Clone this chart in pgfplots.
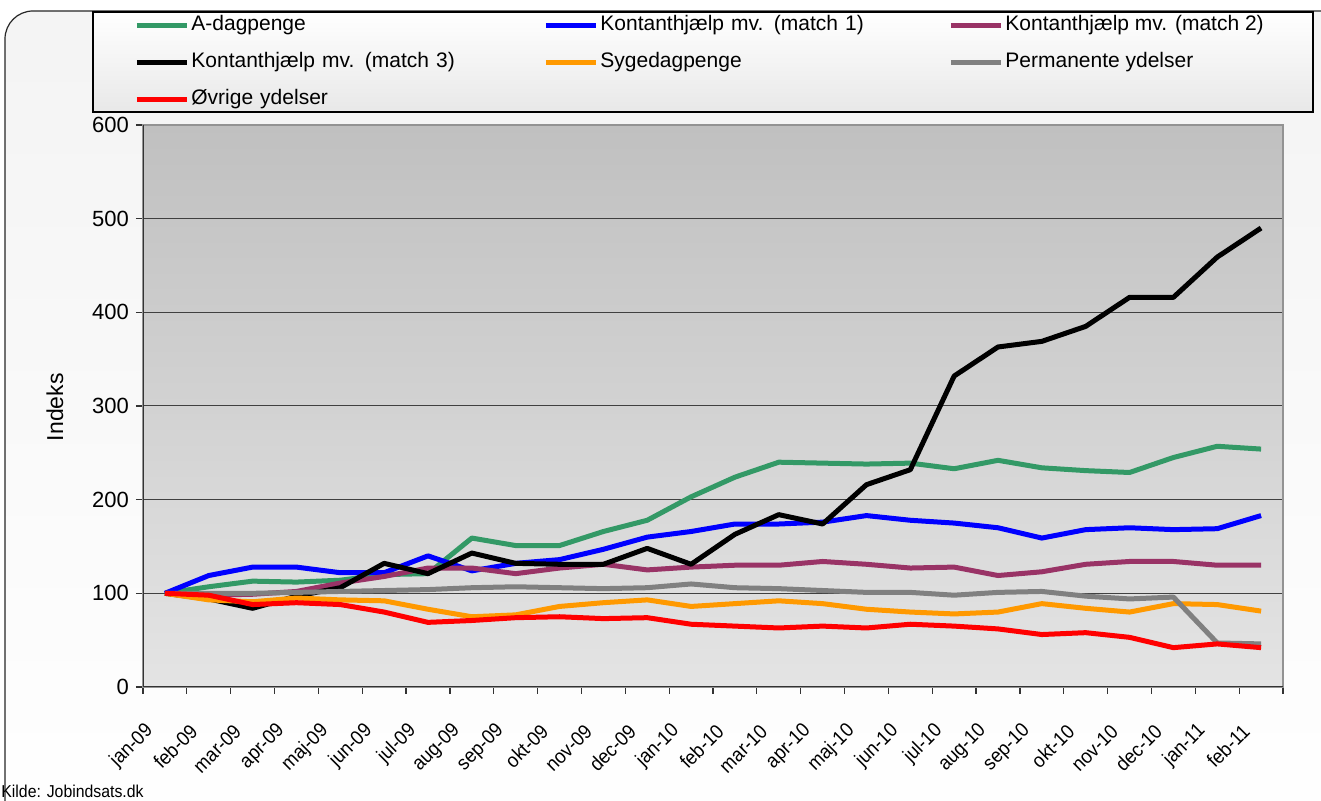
\documentclass[border=0pt]{standalone}
\usepackage{pgfplots}
\usepackage{pgfplotstable}
\pgfplotsset{compat=1.18}
\usepackage{fontspec}
\setmainfont{Liberation Sans}
\newfontfamily\narrowfont{Liberation Sans}[FakeStretch=0.92]
\definecolor{cgreen}{HTML}{339966}
\definecolor{cblue}{HTML}{0000FF}
\definecolor{cpurple}{HTML}{993366}
\definecolor{corange}{HTML}{FF9900}
\definecolor{cgray}{HTML}{808080}
\definecolor{cred}{HTML}{FF0000}
\definecolor{plottop}{HTML}{C0C0C0}
\definecolor{plotbot}{HTML}{E4E4E4}

\pgfplotstableread{
x g b p k o q r
0 100 100 100 100 100 100 100
1 107 119 98 94 93 100 98
2 113 128 99 84 91 100 88
3 112 128 102 97 95 101 90
4 114 122 111 106 93 102 88
5 120 122 118 132 92 103 80
6 121 140 127 121 83 104 69
7 159 124 127 143 75 106 71
8 151 132 121 132 77 107 74
9 151 136 127 131 86 106 75
10 166 147 131 131 90 105 73
11 178 160 125 148 93 106 74
12 203 166 128 131 86 110 67
13 224 174 130 163 89 106 65
14 240 174 130 184 92 105 63
15 239 176 134 174 89 103 65
16 238 183 131 216 83 101 63
17 239 178 127 232 80 101 67
18 233 175 128 332 78 98 65
19 242 170 119 363 80 101 62
20 234 159 123 369 89 102 56
21 231 168 131 385 84 97 58
22 229 170 134 416 80 94 53
23 245 168 134 416 89 96 42
24 257 169 130 459 88 47 46
25 254 183 130 490 81 46 42
}\data

\begin{document}
\begin{tikzpicture}[x=1pt,y=1pt]
\path[use as bounding box] (0,0) rectangle (660.5,400.5);
\begin{scope}
\clip (0,0) rectangle (660.5,400.5);
\draw[black!85, line width=0.6pt, rounded corners=14pt, top color=gray!9, bottom color=white] (2.5,-20) rectangle (690,395);
\end{scope}
\draw[black, line width=0.6pt, top color=white, bottom color=gray!18] (46.5,394.5) rectangle (656.5,344.5);
\begin{axis}[
  at={(71.5pt,57pt)}, anchor=south west,
  scale only axis, width=570pt, height=281pt,
  xmin=-0.5, xmax=25.5, ymin=0, ymax=600,
  axis background/.style={shade, top color=plottop, bottom color=plotbot},
  axis line style={draw=gray!85, line width=1.3pt},
  tick align=outside,
  major tick length=3.5pt,
  xtick={-0.5,0.5,...,25.5},
  xticklabels={},
  extra x ticks={0,...,25},
  extra x tick labels={jan-09,feb-09,mar-09,apr-09,maj-09,jun-09,jul-09,aug-09,sep-09,okt-09,nov-09,dec-09,jan-10,feb-10,mar-10,apr-10,maj-10,jun-10,jul-10,aug-10,sep-10,okt-10,nov-10,dec-10,jan-11,feb-11},
  extra x tick style={major tick length=0pt, grid=none,
     xticklabel style={xshift=-5pt, yshift=-18pt, rotate=45, anchor=east, font=\narrowfont\fontsize{10}{11}\selectfont}},
  xtick pos=bottom, ytick pos=left,
  tick style={black!80, line width=0.6pt},
  ytick={0,100,...,600},
  yticklabel style={font=\fontsize{11}{12}\selectfont},
  /pgf/number format/assume math mode=true,
  ymajorgrids, grid style={black!75, line width=0.5pt},
  ylabel={Indeks},
  ylabel style={at={(axis description cs:-0.0772,0.498)}, anchor=center, font=\fontsize{11.5}{13}\selectfont},
  legend columns=3,
  legend cell align=left,
  legend image code/.code={\draw[#1, line width=2.5pt] (0pt,0pt) -- (25pt,0pt);},
  legend style={at={(axis description cs:-0.00789,1.1957)}, anchor=north west,
     draw=none, fill=none, inner sep=0pt, row sep=8.5pt, column sep=0pt,
     font=\fontsize{10.5}{12}\selectfont,
     nodes={inner xsep=1pt, inner ysep=0pt, text height=7.5pt, text depth=2.5pt},
     /tikz/column 2/.style={nodes={text width=175pt}},
     /tikz/column 4/.style={nodes={text width=173pt}}},
  every axis plot/.append style={line width=2.5pt, line join=round, no markers},
]
\addplot[cgreen] table[x=x,y=g]{\data};
\addlegendentry{A-dagpenge}
\addplot[cblue] table[x=x,y=b]{\data};
\addlegendentry{Kontanthjælp mv. (match 1)}
\addplot[cpurple] table[x=x,y=p]{\data};
\addlegendentry{Kontanthjælp mv. (match 2)}
\addplot[black] table[x=x,y=k]{\data};
\addlegendentry{Kontanthjælp mv. (match 3)}
\addplot[corange] table[x=x,y=o]{\data};
\addlegendentry{Sygedagpenge}
\addplot[cgray] table[x=x,y=q]{\data};
\addlegendentry{Permanente ydelser}
\addplot[cred] table[x=x,y=r]{\data};
\addlegendentry{Øvrige ydelser}
\draw[black!80, line width=1pt] (rel axis cs:0,1) -- (rel axis cs:0,0) -- (rel axis cs:1,0);
\end{axis}
\node[anchor=base west, inner sep=0pt, font=\narrowfont\fontsize{8.6}{9}\selectfont] at (0.5,1.5) {Kilde: Jobindsats.dk};
\end{tikzpicture}
\end{document}
